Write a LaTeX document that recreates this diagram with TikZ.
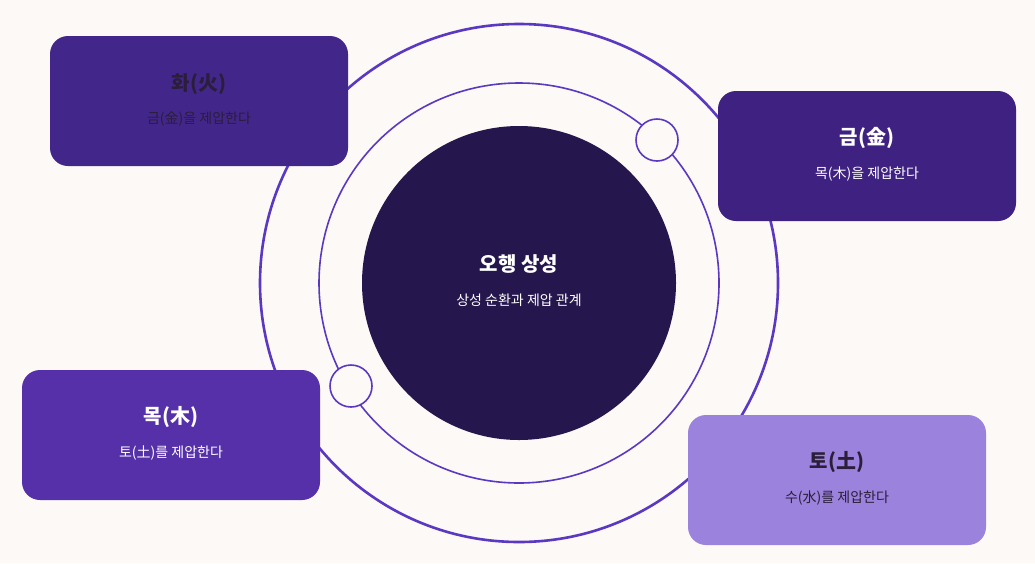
\documentclass[tikz,border=0pt]{standalone}
\usepackage{fontspec}
\newfontfamily\kr{Noto Sans CJK KR}
\definecolor{bg}{HTML}{FCF9F7}
\definecolor{ring}{HTML}{5A38C2}
\definecolor{core}{HTML}{26164E}
\definecolor{bfire}{HTML}{43268A}
\definecolor{bmetal}{HTML}{3E2180}
\definecolor{bwood}{HTML}{5530A8}
\definecolor{bearth}{HTML}{9B82DC}
\definecolor{dtext}{HTML}{2A1E3A}
\tikzset{
  card/.style={rounded corners=18pt, minimum width=298pt, minimum height=130pt, draw=none},
  ttl/.style={font=\kr\fontsize{20}{24}\selectfont\bfseries},
  sub/.style={font=\kr\fontsize{14}{17}\selectfont},
  dot/.style={circle, draw=ring, line width=1.6pt, fill=bg, minimum size=42pt, inner sep=0pt}
}
\begin{document}
\begin{tikzpicture}[x=1pt,y=-1pt]
\fill[bg] (0,0) rectangle (1035,563);
\useasboundingbox (0,0) rectangle (1035,563);
\coordinate (c) at (519,283);
\draw[ring, line width=2.6pt] (c) circle[radius=259];
\draw[ring, line width=1.6pt] (c) circle[radius=200];
\node[circle, fill=core, minimum size=314pt, inner sep=0pt] (core) at (c) {};
\node[ttl, text=white] (ct) at (519,264) {오행 상성};
\node[sub, text=white] (cs) at (519,300) {상성 순환과 제압 관계};
\node[dot] (d1) at (657,140) {};
\node[dot] (d2) at (351,386) {};
\node[card, fill=bfire] (fire) at (199,101) {};
\node[ttl, text=dtext] at (199,84) {화(火)};
\node[sub, text=dtext] at (199,119) {금(金)을 제압한다};
\node[card, fill=bmetal] (metal) at (867,156) {};
\node[ttl, text=white] at (867,138) {금(金)};
\node[sub, text=white] at (867,174) {목(木)을 제압한다};
\node[card, fill=bwood] (wood) at (171,435) {};
\node[ttl, text=white] at (171,417) {목(木)};
\node[sub, text=white] at (171,453) {토(土)를 제압한다};
\node[card, fill=bearth] (earth) at (837,480) {};
\node[ttl, text=dtext] at (837,462) {토(土)};
\node[sub, text=dtext] at (837,498) {수(水)를 제압한다};
\end{tikzpicture}
\end{document}
